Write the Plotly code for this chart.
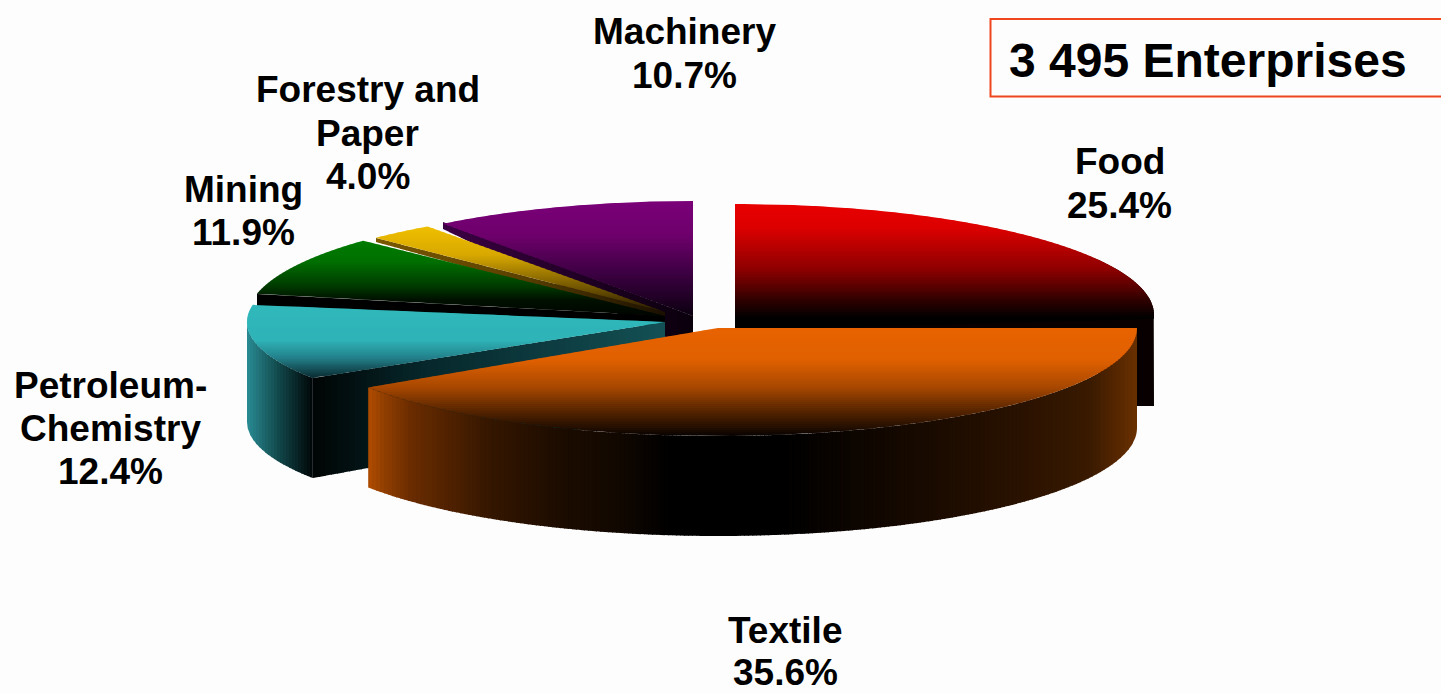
import math
import plotly.graph_objects as go

# ---- data ----
categories = ["Food", "Textile", "Petroleum-Chemistry", "Mining", "Forestry and Paper", "Machinery"]
shares = [25.4, 35.6, 12.4, 11.9, 4.0, 10.7]
enterprises_label = "3 495 Enterprises"
# angles at which the picture actually draws each slice (clockwise from top, degrees)
drawn_start = [0, 90, 237.4, 282.5, 315.3, 323.4]
drawn_end = [92, 236.6, 279.5, 313.6, 324.5, 360]

# ---- styling / layout ----
W, H = 1441, 693
FONT = "Liberation Sans, Arial, sans-serif"

def hexrgb(c):
    return tuple(int(c[i:i + 2], 16) for i in (1, 3, 5))

def ramp(stops, v):
    if v <= stops[0][0]:
        return stops[0][1]
    for (a, ca), (b, cb) in zip(stops, stops[1:]):
        if v <= b:
            t = (v - a) / (b - a)
            x, y = hexrgb(ca), hexrgb(cb)
            return "#%02x%02x%02x" % tuple(round(p + (q - p) * t) for p, q in zip(x, y))
    return stops[-1][1]

def clip(poly, axis, val, keep_less):
    out = []
    n = len(poly)
    for i in range(n):
        p, q = poly[i], poly[(i + 1) % n]
        pin = p[axis] <= val if keep_less else p[axis] >= val
        qin = q[axis] <= val if keep_less else q[axis] >= val
        if pin:
            out.append(p)
        if pin != qin:
            t = (val - p[axis]) / (q[axis] - p[axis])
            out.append((p[0] + (q[0] - p[0]) * t, p[1] + (q[1] - p[1]) * t))
    return out

fig = go.Figure()

def add_poly(poly, color):
    if len(poly) < 3:
        return
    xs = [p[0] for p in poly] + [poly[0][0]]
    ys = [p[1] for p in poly] + [poly[0][1]]
    fig.add_trace(go.Scatter(x=xs, y=ys, mode="lines", fill="toself", fillcolor=color,
                             line=dict(width=0, color=color), hoverinfo="skip", showlegend=False))

def banded(poly, axis, stops, step):
    vals = [p[axis] for p in poly]
    lo, hi = min(vals), max(vals)
    v = lo
    while v < hi:
        part = clip(clip(poly, axis, v, False), axis, v + step + 0.8, True)
        add_poly(part, ramp(stops, v + step / 2))
        v += step

def arc(c, a0, a1, n=80, dy=0):
    pts = []
    for i in range(n + 1):
        a = math.radians(a0 + (a1 - a0) * i / n)
        pts.append((c["cx"] + c["rx"] * math.sin(a), c["cy"] - c["ry"] * math.cos(a) + dy))
    return pts

geom = {
    "Machinery": dict(cx=693, cy=316, rx=419, ry=115, ax=693, ay=316),
    "Forestry and Paper": dict(cx=672, cy=316, rx=421, ry=110, ax=665, ay=312),
    "Mining": dict(cx=668, cy=318, rx=421, ry=112, ax=665, ay=316),
    "Food": dict(cx=735, cy=315, rx=419, ry=111, ax=735, ay=330),
    "Petroleum-Chemistry": dict(cx=665, cy=322, rx=418, ry=104, ax=665, ay=322),
    "Textile": dict(cx=718, cy=328, rx=419, ry=108, ax=718, ay=328),
}
top_stops = {
    "Machinery": [(201, "#7a0078"), (235, "#6e006c"), (275, "#3a0040"), (315, "#0c0010")],
    "Forestry and Paper": [(225, "#f0c000"), (255, "#d8a800"), (285, "#7a5c00"), (315, "#1a1000")],
    "Mining": [(240, "#007c00"), (262, "#006f00"), (287, "#003800"), (300, "#001000"), (318, "#000400")],
    "Food": [(204, "#e80000"), (228, "#dc0000"), (270, "#8c0000"), (300, "#300000"), (318, "#000000")],
    "Petroleum-Chemistry": [(303, "#30b8bb"), (340, "#2fb4b8"), (358, "#23808a"), (378, "#0a2a30")],
    "Textile": [(328, "#e86200"), (360, "#e06000"), (387, "#a84800"), (404, "#6e2e00"), (420, "#3a1800"), (435, "#0c0400")],
}

def wedge(name):
    i = categories.index(name)
    g = geom[name]
    return [(g["ax"], g["ay"])] + arc(g, drawn_start[i], drawn_end[i])

def side_strip(name, depth, a1=None):
    i = categories.index(name)
    g = geom[name]
    t = arc(g, drawn_start[i], drawn_end[i] if a1 is None else a1)
    return t + [(x, y + depth) for x, y in reversed(t)]

# back slices
banded([(443, 222), (693, 316), (693, 350), (443, 229)], 0, [(443, "#3c0044"), (620, "#18001c"), (693, "#0a000c")], 6)
banded(wedge("Machinery"), 1, top_stops["Machinery"], 2)

banded([(376, 238), (665, 312), (665, 322), (376, 242)], 0, [(376, "#7a5800"), (520, "#5a4000"), (665, "#1a1000")], 6)
banded(wedge("Forestry and Paper"), 1, top_stops["Forestry and Paper"], 2)

add_poly([(257, 294), (665, 316), (665, 326), (257, 306)], "#000000")
banded(wedge("Mining"), 1, top_stops["Mining"], 2)

# Food side (mostly hidden behind Textile)
food_arc = arc(geom["Food"], 60, 92, 30)
add_poly(food_arc + [(1154, 406), (1098, 406), (1098, 336), (735, 336), (735, 310)], "#080000")
banded(wedge("Food"), 1, top_stops["Food"], 2)

# Petroleum
banded([(313, 378), (665, 322), (665, 414), (313, 478)], 0, [(313, "#000404"), (420, "#06262a"), (665, "#135055")], 6)
banded(side_strip("Petroleum-Chemistry", 100, a1=270), 0, [(247, "#2a8c94"), (280, "#104548"), (313, "#000506")], 3)
banded(wedge("Petroleum-Chemistry"), 1, top_stops["Petroleum-Chemistry"], 2)

# Textile
banded(side_strip("Textile", 100), 0,
       [(368, "#b04c00"), (385, "#8f3e00"), (411, "#6a2c00"), (487, "#361700"), (560, "#1c0c00"), (615, "#120800"),
        (670, "#000000"), (780, "#000000"), (921, "#180a00"), (1023, "#2a1200"), (1090, "#3a1a00"), (1137, "#6a3000")], 4)
banded(wedge("Textile"), 1, top_stops["Textile"], 2)

# labels: one annotation per line to reproduce the tight line spacing
label_lines = {
    "Machinery": (684, [31, 75], ["Machinery"]),
    "Forestry and Paper": (367.5, [89, 133, 176], ["Forestry and", "Paper"]),
    "Mining": (243, [189, 232], ["Mining"]),
    "Petroleum-Chemistry": (110, [385, 428, 471], ["Petroleum-", "Chemistry"]),
    "Food": (1119.5, [161, 205], ["Food"]),
    "Textile": (785, [630, 672], ["Textile"]),
}
annotations = []
for name, share in zip(categories, shares):
    x, ys, words = label_lines[name]
    for text, y in zip(words + [f"{share:.1f}%"], ys):
        annotations.append(dict(x=x, y=y, text=f"<b>{text}</b>", showarrow=False, xanchor="center", yanchor="middle",
                                font=dict(family=FONT, size=37, color="#000000")))
annotations.append(dict(x=1208, y=60, text=f"<b>{enterprises_label}</b>", showarrow=False, xanchor="center", yanchor="middle",
                        font=dict(family=FONT, size=48, color="#000000")))

fig.update_layout(
    width=W, height=H, margin=dict(l=0, r=0, t=0, b=0),
    paper_bgcolor="#fdfdfd", plot_bgcolor="#fdfdfd", showlegend=False,
    xaxis=dict(range=[0, W], visible=False, fixedrange=True),
    yaxis=dict(range=[H, 0], visible=False, fixedrange=True),
    annotations=annotations,
    shapes=[dict(type="rect", x0=990.5, x1=W + 5, y0=19, y1=96.5,
                 line=dict(color="#f0461e", width=2), fillcolor="rgba(0,0,0,0)")],
)
fig.write_html("out.html", config={"displayModeBar": False},
               post_script="document.body.style.margin='0';document.body.style.overflow='hidden';")
